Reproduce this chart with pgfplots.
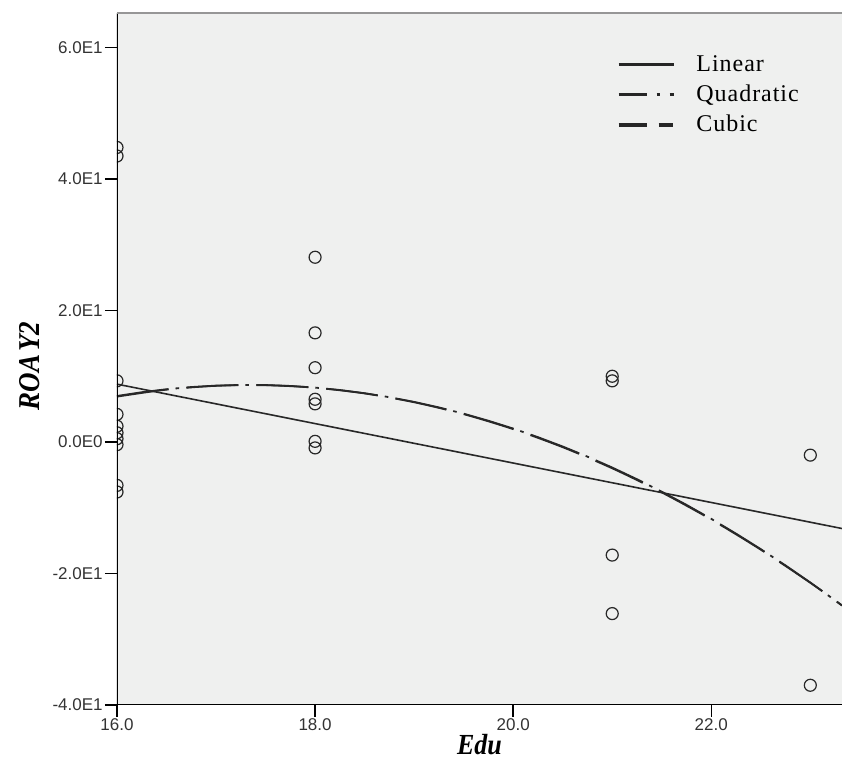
\documentclass[border=0pt]{standalone}
\usepackage{fontspec}
\usepackage{graphicx}
\setmainfont{Liberation Sans}
\newfontfamily\timesfont{Liberation Serif}
\newfontfamily\legendfont{Liberation Serif}[LetterSpace=4]
\usepackage{pgfplots}
\pgfplotsset{compat=1.18}
\definecolor{bgcol}{RGB}{239,240,239}
\definecolor{ink}{RGB}{40,40,40}
\definecolor{topgray}{RGB}{150,150,150}

\pgfplotstableread{
x y
16 44.8
16 43.5
16 9.3
16 4.2
16 2.4
16 1.4
16 0.5
16 -0.4
16 -6.6
16 -7.6
18 28.1
18 16.6
18 11.3
18 6.5
18 5.8
18 0.1
18 -0.9
21 10.0
21 9.3
21 -17.2
21 -26.1
23 -2.0
23 -37.0
}\obs

\pgfplotstableread{
x y
16.00 7.000
16.25 7.570
16.50 8.022
16.75 8.357
17.00 8.575
17.25 8.676
17.50 8.659
17.75 8.525
18.00 8.274
18.25 7.906
18.50 7.420
18.75 6.817
19.00 6.097
19.25 5.260
19.50 4.305
19.75 3.233
20.00 2.044
20.25 0.738
20.50 -0.686
20.75 -2.227
21.00 -3.885
21.25 -5.661
21.50 -7.553
21.75 -9.563
22.00 -11.690
22.25 -13.935
22.50 -16.296
22.75 -18.775
23.00 -21.371
23.25 -24.085
23.32 -24.866
}\quad

\pgfplotstableread{
x y
16.00 6.900
16.50 7.966
17.00 8.544
17.50 8.639
18.00 8.252
18.50 7.388
19.00 6.048
19.50 4.237
20.00 1.956
20.50 -0.791
21.00 -4.000
21.50 -7.670
22.00 -11.796
22.50 -16.377
23.00 -21.408
23.32 -24.864
}\cubic

\begin{document}
\begin{tikzpicture}
\begin{axis}[
  name=ax,
  scale only axis, width=362.5pt, height=346pt,
  xmin=16, xmax=23.32, ymin=-40, ymax=65.25,
  axis background/.style={fill=bgcol},
  axis line style={draw=none},
  xtick={16,18,20,22}, xticklabels={16.0,18.0,20.0,22.0},
  ytick={-40,-20,0,20,40,60},
  yticklabels={-4.0E1,-2.0E1,0.0E0,2.0E1,4.0E1,6.0E1},
  tick pos=left, tick align=outside, major tick length=6pt,
  tick style={black, line width=0.7pt},
  ticklabel style={font=\fontsize{8.5}{10}\selectfont, text=black!80},
  xticklabel style={inner sep=0.5pt},
  yticklabel style={inner sep=1pt},
  xlabel={\scalebox{1}[1.12]{\timesfont\bfseries\itshape Edu}},
  xlabel style={at={(axis description cs:0.5,0)}, anchor=base, yshift=-25pt, font=\fontsize{13}{15}\selectfont},
  ylabel={\scalebox{1}[1.12]{\timesfont\bfseries\itshape ROA\kern1.5pt Y2}},
  ylabel style={at={(axis description cs:-0.12,0.49)}, anchor=center, font=\fontsize{13.5}{15}\selectfont},
  clip marker paths=true,
  legend style={at={(0.689,0.945)}, anchor=north west, draw=none, fill=none,
    font=\legendfont\fontsize{12}{14}\selectfont, inner sep=0pt, row sep=1.3pt},
  legend cell align=left,
]
\addplot[only marks, mark=o, mark size=3pt, mark options={draw=ink, line width=0.6pt}, forget plot] table[x=x,y=y]{\obs};

\addplot[ink, line width=0.8pt,
  legend image code/.code={\draw[black!85, line width=1.6pt] (0pt,0pt) -- (27.5pt,0pt); \path (36.5pt,0pt);}]
  coordinates {(16,8.8) (23.32,-13.16)};
\addlegendentry{Linear}

\addplot[ink, line width=0.9pt, dash pattern=on 26pt off 3.5pt on 1.8pt off 3.7pt,
  legend image code/.code={\draw[black!85, line width=1.6pt, dash pattern=on 14pt off 5pt on 1.5pt off 5pt] (0pt,0pt) -- (27.5pt,0pt); \path (36.5pt,0pt);}]
  table[x=x,y=y]{\quad};
\addlegendentry{Quadratic}

\addplot[ink, line width=0.9pt, smooth, dash pattern=on 26pt off 9pt,
  legend image code/.code={\draw[black!85, line width=1.6pt, dash pattern=on 14pt off 6pt on 7pt off 2pt] (0pt,0pt) -- (27.5pt,0pt); \path (36.5pt,0pt);}]
  table[x=x,y=y]{\cubic};
\addlegendentry{Cubic}

\draw[black, line width=0.8pt] (rel axis cs:0,0) -- (rel axis cs:0,1);
\draw[black, line width=0.8pt] (rel axis cs:0,0) -- (rel axis cs:1,0);
\draw[topgray, line width=1.5pt] (rel axis cs:0,1) -- (rel axis cs:1,1);
\end{axis}
\pgfresetboundingbox
\path ([xshift=-58.5pt,yshift=-32pt]ax.south west) rectangle ([yshift=6.5pt]ax.north east);
\end{tikzpicture}
\end{document}
